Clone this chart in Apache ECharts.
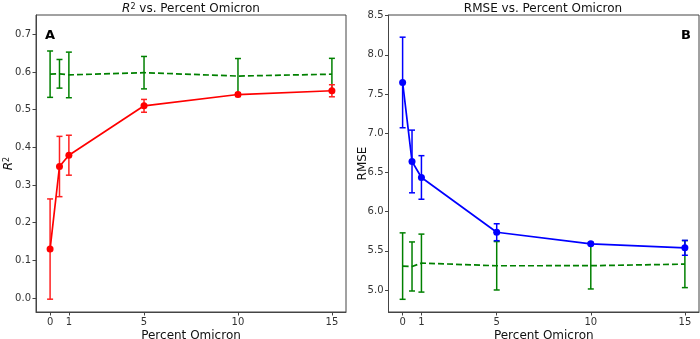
<!DOCTYPE html>
<html>
<head>
<meta charset="utf-8">
<script src="https://cdn.jsdelivr.net/npm/echarts@6/dist/echarts.min.js"></script>
<style>html,body{margin:0;padding:0;background:#fff}#c{width:700px;height:339px}</style>
</head>
<body>
<div id="c"></div>
<script>
// ---- data ----
const percentOmicron = [0, 0.5, 1, 5, 10, 15];
const xTicks = [0, 1, 5, 10, 15];
const r2Model = [0.13, 0.349, 0.379, 0.51, 0.54, 0.55];
const r2ModelErr = [0.133, 0.08, 0.053, 0.017, 0.005, 0.016];
const r2Baseline = [0.594, 0.595, 0.592, 0.598, 0.589, 0.594];
const r2BaselineErr = [0.0615, 0.038, 0.0605, 0.043, 0.0465, 0.042];
const r2Ticks = [0.0, 0.1, 0.2, 0.3, 0.4, 0.5, 0.6, 0.7];
const rmseModel = [7.648, 6.64, 6.436, 5.737, 5.589, 5.538];
const rmseModelErr = [0.578, 0.40, 0.278, 0.108, 0.01, 0.095];
const rmseBaseline = [5.305, 5.30, 5.343, 5.309, 5.31, 5.33];
const rmseBaselineErr = [0.424, 0.313, 0.37, 0.309, 0.297, 0.30];
const rmseTicks = [5.0, 5.5, 6.0, 6.5, 7.0, 7.5, 8.0, 8.5];

const FONT = 'DejaVu Sans';
const pts = (ys) => percentOmicron.map((x, i) => [x, ys[i]]);
const errPts = (ys, es) => percentOmicron.map((x, i) => [x, ys[i], es[i]]);

function errRender(color) {
  return function (params, api) {
    const x = api.value(0), y = api.value(1), e = api.value(2);
    const t = api.coord([x, y + e]);
    const b = api.coord([x, y - e]);
    const cw = 3;
    const st = { stroke: color, lineWidth: 1.5 };
    return {
      type: 'group',
      children: [
        { type: 'line', shape: { x1: t[0], y1: t[1], x2: b[0], y2: b[1] }, style: st },
        { type: 'line', shape: { x1: t[0] - cw, y1: t[1], x2: t[0] + cw, y2: t[1] }, style: st },
        { type: 'line', shape: { x1: b[0] - cw, y1: b[1], x2: b[0] + cw, y2: b[1] }, style: st }
      ]
    };
  };
}

function xAxis(gi) {
  return {
    type: 'value', gridIndex: gi, min: -0.75, max: 15.75,
    name: 'Percent Omicron', nameLocation: 'middle', nameGap: 18, nameMoveOverlap: false,
    nameTextStyle: { fontFamily: FONT, fontSize: 12, color: '#111' },
    axisLine: { show: true, onZero: false, lineStyle: { color: '#444', width: 1 } },
    axisTick: { show: true, length: 3.5, lineStyle: { color: '#444' }, customValues: xTicks },
    axisLabel: { fontFamily: FONT, fontSize: 10, color: '#333', margin: 5, customValues: xTicks, formatter: v => String(v) },
    splitLine: { show: false }
  };
}
function yAxis(gi, min, max, ticks, name, gap, rich, dec) {
  return {
    type: 'value', gridIndex: gi, min: min, max: max,
    name: name, nameLocation: 'middle', nameGap: gap, nameRotate: 90, nameMoveOverlap: false,
    nameTextStyle: { fontFamily: FONT, fontSize: 12, color: '#111', rich: rich },
    axisLine: { show: true, onZero: false, lineStyle: { color: '#444', width: 1 } },
    axisTick: { show: true, length: 3.5, lineStyle: { color: '#444' }, customValues: ticks },
    axisLabel: { fontFamily: FONT, fontSize: 10, color: '#333', margin: 5, customValues: ticks, formatter: v => v.toFixed(dec) },
    splitLine: { show: false }
  };
}

const chart = echarts.init(document.getElementById('c'), null, { renderer: 'canvas' });
chart.setOption({
  animation: false,
  backgroundColor: '#fff',
  title: [
    { text: '{i|R}{s|2} vs. Percent Omicron', left: 191, top: 3, padding: 0, textAlign: 'center',
      textStyle: { fontFamily: FONT, fontSize: 12, fontWeight: 'normal', color: '#111',
        rich: { i: { fontFamily: FONT, fontSize: 12, fontStyle: 'italic', color: '#111' },
                s: { fontFamily: FONT, fontSize: 8, color: '#111', verticalAlign: 'top', lineHeight: 12 } } } },
    { text: 'RMSE vs. Percent Omicron', left: 543, top: 3, padding: 0, textAlign: 'center',
      textStyle: { fontFamily: FONT, fontSize: 12, fontWeight: 'normal', color: '#111' } },
    { text: 'A', left: 45, top: 29, padding: 0, textStyle: { fontFamily: FONT, fontSize: 13, fontWeight: 'bold', color: '#000' } },
    { text: 'B', left: 681, top: 29, padding: 0, textStyle: { fontFamily: FONT, fontSize: 13, fontWeight: 'bold', color: '#000' } }
  ],
  grid: [
    { left: 36, top: 15, width: 310, height: 297, show: true, borderColor: '#444', borderWidth: 1, backgroundColor: 'transparent', outerBoundsMode: 'none', containLabel: false },
    { left: 388.5, top: 15, width: 310.5, height: 297, show: true, borderColor: '#444', borderWidth: 1, backgroundColor: 'transparent', outerBoundsMode: 'none', containLabel: false }
  ],
  xAxis: [xAxis(0), xAxis(1)],
  yAxis: [
    yAxis(0, -0.037, 0.751, r2Ticks, '{i|R}{s|2}', 21.5,
      { i: { fontFamily: FONT, fontSize: 12, fontStyle: 'italic', color: '#111' },
        s: { fontFamily: FONT, fontSize: 8, color: '#111', verticalAlign: 'top', lineHeight: 12 } }, 1),
    yAxis(1, 4.719, 8.509, rmseTicks, 'RMSE', 20, {}, 1)
  ],
  series: [
    { type: 'line', xAxisIndex: 0, yAxisIndex: 0, data: pts(r2Baseline), showSymbol: false, symbol: 'none',
      lineStyle: { color: '#008000', width: 1.7, type: [6, 3] }, z: 2 },
    { type: 'custom', xAxisIndex: 0, yAxisIndex: 0, data: errPts(r2Baseline, r2BaselineErr), renderItem: errRender('#008000'), z: 2 },
    { type: 'line', xAxisIndex: 0, yAxisIndex: 0, data: pts(r2Model), symbol: 'circle', symbolSize: 7,
      itemStyle: { color: '#ff0000' }, lineStyle: { color: '#ff0000', width: 1.7 }, z: 4 },
    { type: 'custom', xAxisIndex: 0, yAxisIndex: 0, data: errPts(r2Model, r2ModelErr), renderItem: errRender('#ff2020'), z: 3 },

    { type: 'line', xAxisIndex: 1, yAxisIndex: 1, data: pts(rmseBaseline), showSymbol: false, symbol: 'none',
      lineStyle: { color: '#008000', width: 1.7, type: [6, 3] }, z: 2 },
    { type: 'custom', xAxisIndex: 1, yAxisIndex: 1, data: errPts(rmseBaseline, rmseBaselineErr), renderItem: errRender('#008000'), z: 2 },
    { type: 'line', xAxisIndex: 1, yAxisIndex: 1, data: pts(rmseModel), symbol: 'circle', symbolSize: 7,
      itemStyle: { color: '#0000ff' }, lineStyle: { color: '#0000ff', width: 1.7 }, z: 4 },
    { type: 'custom', xAxisIndex: 1, yAxisIndex: 1, data: errPts(rmseModel, rmseModelErr), renderItem: errRender('#0000ff'), z: 3 }
  ]
});
</script>
</body>
</html>
